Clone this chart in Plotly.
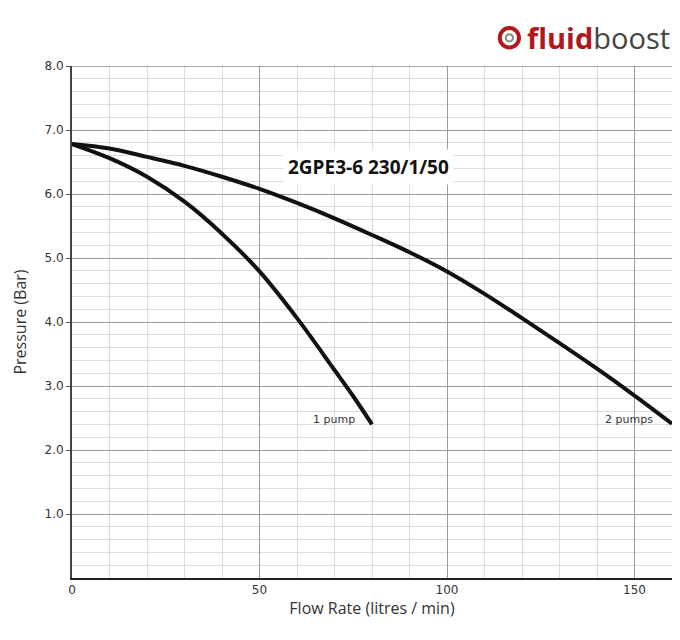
import plotly.graph_objects as go

# Pump curve readings (flow in litres/min, pressure in bar)
one_pump_q = [0, 10, 20, 30, 40, 50, 60, 70, 75, 80]
one_pump_p = [6.78, 6.56, 6.27, 5.88, 5.38, 4.79, 4.06, 3.25, 2.84, 2.40]

two_pump_q = [0, 10, 20, 30, 40, 50, 60, 70, 80, 90, 100, 110, 120, 130, 140, 150, 160]
two_pump_p = [6.78, 6.71, 6.58, 6.44, 6.27, 6.08, 5.86, 5.62, 5.36, 5.09,
              4.79, 4.44, 4.06, 3.67, 3.27, 2.85, 2.41]

x_ticks = [0, 50, 100, 150]
y_ticks = [1, 2, 3, 4, 5, 6, 7, 8]

MODEL = "2GPE3-6 230/1/50"
LINE = "#111111"
MAJOR = "#9a9a9a"
MINOR = "#dcdcdc"
RED = "#b3161b"
TICK_FONT = dict(family="DejaVu Sans", size=12, color="#333333")

fig = go.Figure()
fig.add_trace(go.Scatter(x=one_pump_q, y=one_pump_p, mode="lines",
                         line=dict(color=LINE, width=4, shape="spline"),
                         name="1 pump", hoverinfo="x+y"))
fig.add_trace(go.Scatter(x=two_pump_q, y=two_pump_p, mode="lines",
                         line=dict(color=LINE, width=4, shape="spline"),
                         name="2 pumps", hoverinfo="x+y"))

# page body adds 8px, so the figure is 664x624 with margins trimmed to match
fig.update_layout(
    width=664, height=624,
    paper_bgcolor="white", plot_bgcolor="white",
    showlegend=False,
    margin=dict(l=64, r=0, t=58, b=54),
    xaxis=dict(
        range=[0, 160], tickvals=x_ticks, ticks="", tickfont=TICK_FONT,
        automargin=False,
        showgrid=True, gridcolor=MAJOR, gridwidth=1,
        minor=dict(dtick=10, showgrid=True, gridcolor=MINOR, gridwidth=1),
        showline=True, linecolor="#222222", linewidth=2,
        zeroline=False,
        title=dict(text="Flow Rate (litres / min)",
                   font=dict(family="Open Sans", size=16, color="#333333"),
                   standoff=6),
    ),
    yaxis=dict(
        range=[0, 8], tickvals=y_ticks, tickformat=".1f",
        ticks="outside", ticklen=4, tickcolor="#555555", tickfont=TICK_FONT,
        automargin=False,
        showgrid=True, gridcolor=MAJOR, gridwidth=1,
        minor=dict(dtick=0.2, showgrid=True, gridcolor=MINOR, gridwidth=1),
        showline=True, linecolor="#444444", linewidth=2,
        zeroline=False,
        title=dict(text="Pressure (Bar)",
                   font=dict(family="Open Sans", size=16, color="#333333"),
                   standoff=14),
    ),
)

# top border at 8.0
fig.add_shape(type="line", xref="paper", yref="y", x0=0, x1=1, y0=8, y1=8,
              line=dict(color="#555555", width=1))

fig.add_annotation(x=79, y=6.42, text=f"<b>{MODEL}</b>", showarrow=False,
                   font=dict(family="Open Sans", size=19, color="#111111"),
                   bgcolor="white", borderpad=4)
fig.add_annotation(x=76, y=2.48, text="1 pump", showarrow=False, xanchor="right",
                   font=dict(family="DejaVu Sans", size=11, color="#333333"))
fig.add_annotation(x=155.5, y=2.48, text="2 pumps", showarrow=False, xanchor="right",
                   font=dict(family="DejaVu Sans", size=11, color="#333333"))

# logo
fig.add_annotation(xref="paper", yref="paper", x=1.0, y=1.055, xanchor="right",
                   yanchor="middle", showarrow=False,
                   text=f"<b><span style='color:{RED}'>fluid</span></b>"
                        "<span style='color:#444444'>boost</span>",
                   font=dict(family="Open Sans", size=29))
fig.add_shape(type="circle", xref="paper", yref="paper",
              x0=0.713, x1=0.745, y0=1.036, y1=1.074,
              line=dict(color=RED, width=4))
fig.add_shape(type="circle", xref="paper", yref="paper",
              x0=0.723, x1=0.735, y0=1.048, y1=1.062,
              line=dict(color="#888888", width=2))

fig.write_html("out.html")
